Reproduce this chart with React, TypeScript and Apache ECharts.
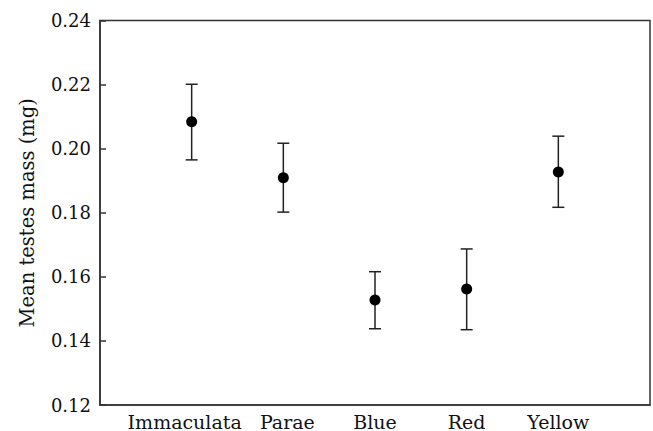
import React, { useEffect, useRef } from "react";
import * as echarts from "echarts";

const categories = ["Immaculata", "Parae", "Blue", "Red", "Yellow"];
const means = [0.2084, 0.1909, 0.1528, 0.1562, 0.1927];
const lowers = [0.1965, 0.1802, 0.1438, 0.1435, 0.1817];
const uppers = [0.2201, 0.2017, 0.1616, 0.1687, 0.2039];
const yTicks = [0.12, 0.14, 0.16, 0.18, 0.2, 0.22, 0.24];

const FONT = "DejaVu Serif";
const LABEL_SIZE = 19;

export default function App() {
  const ref = useRef<HTMLDivElement>(null);
  useEffect(() => {
    if (!ref.current) return;
    const chart = echarts.init(ref.current, null, { renderer: "svg" });
    const pts = means.map((m, i) => [i + 1, m]);
    const errs = categories.map((_, i) => [i + 1, lowers[i], uppers[i]]);
    const base = { fontFamily: FONT, fontSize: LABEL_SIZE, color: "#111" };
    chart.setOption({
      animation: false,
      backgroundColor: "#fff",
      grid: {
        left: 100,
        right: 3,
        top: 20.5,
        bottom: 26,
        show: true,
        borderColor: "#333",
        borderWidth: 1.5,
        backgroundColor: "transparent",
      },
      xAxis: {
        type: "value",
        min: 0,
        max: 6,
        interval: 1,
        axisLine: { show: true, lineStyle: { color: "#333", width: 1.5 } },
        axisTick: { show: false },
        splitLine: { show: false },
        axisLabel: {
          ...base,
          margin: 7,
          showMinLabel: true,
          showMaxLabel: true,
          rich: {
            l: { ...base, padding: [0, 14, 0, 0] },
            r: { ...base, padding: [0, 0, 0, 8] },
            c: { ...base },
          },
          formatter: (v: number) => {
            const i = Math.round(v) - 1;
            if (i < 0 || i >= categories.length) return "";
            const key = i === 0 ? "l" : i === 1 ? "r" : "c";
            return "{" + key + "|" + categories[i] + "}";
          },
        },
      },
      yAxis: {
        type: "value",
        min: yTicks[0],
        max: yTicks[yTicks.length - 1],
        interval: 0.02,
        name: "Mean testes mass (mg)",
        nameLocation: "middle",
        nameGap: 63,
        nameTextStyle: { fontFamily: FONT, fontSize: 19.5, color: "#111" },
        axisLine: { show: true, lineStyle: { color: "#333", width: 1.5 } },
        axisTick: { show: true, inside: true, length: 6, lineStyle: { color: "#333", width: 1.5 } },
        splitLine: { show: false },
        axisLabel: {
          fontFamily: FONT,
          fontSize: 18,
          color: "#111",
          margin: 9,
          formatter: (v: number) => v.toFixed(2),
        },
      },
      series: [
        {
          type: "custom",
          data: errs,
          encode: { x: 0, y: [1, 2] },
          renderItem: (params: any, api: any) => {
            const x = api.value(0);
            const lo = api.coord([x, api.value(1)]);
            const hi = api.coord([x, api.value(2)]);
            const cw = 6;
            const style = { stroke: "#222", lineWidth: 1.5 };
            return {
              type: "group",
              children: [
                { type: "line", shape: { x1: lo[0], y1: lo[1], x2: hi[0], y2: hi[1] }, style },
                { type: "line", shape: { x1: lo[0] - cw, y1: lo[1], x2: lo[0] + cw, y2: lo[1] }, style },
                { type: "line", shape: { x1: hi[0] - cw, y1: hi[1], x2: hi[0] + cw, y2: hi[1] }, style },
              ],
            };
          },
          z: 2,
        },
        {
          type: "scatter",
          data: pts,
          symbol: "circle",
          symbolSize: 11,
          itemStyle: { color: "#000", opacity: 1 },
          z: 3,
        },
      ],
    });
    return () => chart.dispose();
  }, []);
  return (
    <div
      ref={ref}
      style={{ position: "fixed", left: 0, top: 0, width: 653, height: 431 }}
    />
  );
}
